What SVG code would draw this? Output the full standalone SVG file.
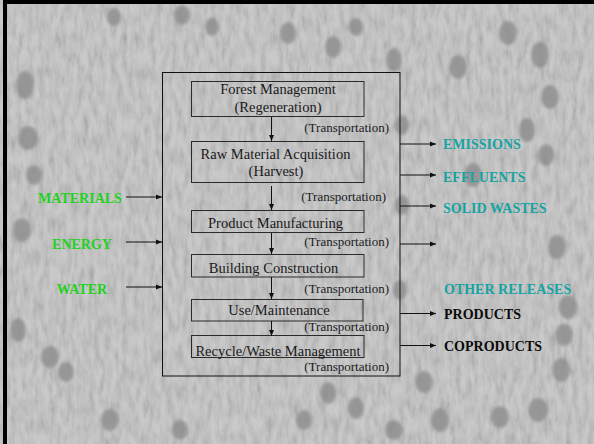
<svg xmlns="http://www.w3.org/2000/svg" width="594" height="444" viewBox="0 0 594 444">
<style>
.box{fill:none;stroke:#2a2a2a;stroke-width:1}
text{font-family:'Liberation Serif','Times New Roman',Tinos,'DejaVu Serif',serif}
.t{font-size:14.5px;fill:#1a1a1a;text-anchor:middle}
.tr{font-size:13px;fill:#1a1a1a;text-anchor:end}
.lbl{font-size:14px;font-weight:bold}
.in{fill:#1fd21f;text-anchor:middle}
.out{fill:#17a3a3}
.prod{fill:#0a0a0a}
.ln{stroke:#111;stroke-width:1;fill:none}
.blob{fill:#8c8c8c}
</style>
<defs>
<marker id="ah" viewBox="0 0 6 6" refX="6" refY="3" markerWidth="6" markerHeight="6" markerUnits="userSpaceOnUse" orient="auto">
<path d="M0,0.5 L6,3 L0,5.5 Z" fill="#111"/>
</marker>
<filter id="grain" x="0" y="0" width="100%" height="100%">
<feTurbulence type="fractalNoise" baseFrequency="0.18 0.06" numOctaves="3" seed="3"/>
<feColorMatrix type="matrix" values="1.4 0 0 0 0  1.4 0 0 0 0  1.4 0 0 0 0  0 0 0 0 1"/>
</filter>
<filter id="soft"><feGaussianBlur stdDeviation="1.6"/></filter>
</defs>
<g id="background">
<rect x="0" y="0" width="594" height="444" fill="#bababa"/>
<rect x="0" y="0" width="594" height="444" filter="url(#grain)" opacity="0.22"/>
<g filter="url(#soft)" opacity="0.8">
<ellipse class="blob" cx="25" cy="85" rx="9" ry="14"/>
<ellipse class="blob" cx="28" cy="138" rx="10" ry="12"/>
<ellipse class="blob" cx="34" cy="175" rx="8" ry="10"/>
<ellipse class="blob" cx="22" cy="230" rx="9" ry="12"/>
<ellipse class="blob" cx="18" cy="330" rx="8" ry="12"/>
<ellipse class="blob" cx="50" cy="357" rx="9" ry="11"/>
<ellipse class="blob" cx="66" cy="372" rx="8" ry="10"/>
<ellipse class="blob" cx="114" cy="17" rx="7" ry="9"/>
<ellipse class="blob" cx="182" cy="15" rx="8" ry="10"/>
<ellipse class="blob" cx="212" cy="27" rx="7" ry="9"/>
<ellipse class="blob" cx="288" cy="33" rx="8" ry="11"/>
<ellipse class="blob" cx="333" cy="47" rx="8" ry="11"/>
<ellipse class="blob" cx="356" cy="27" rx="7" ry="9"/>
<ellipse class="blob" cx="394" cy="60" rx="8" ry="12"/>
<ellipse class="blob" cx="402" cy="125" rx="7" ry="10"/>
<ellipse class="blob" cx="458" cy="67" rx="9" ry="12"/>
<ellipse class="blob" cx="508" cy="33" rx="9" ry="12"/>
<ellipse class="blob" cx="540" cy="55" rx="9" ry="13"/>
<ellipse class="blob" cx="550" cy="97" rx="9" ry="12"/>
<ellipse class="blob" cx="527" cy="130" rx="8" ry="12"/>
<ellipse class="blob" cx="546" cy="155" rx="8" ry="11"/>
<ellipse class="blob" cx="557" cy="247" rx="9" ry="12"/>
<ellipse class="blob" cx="568" cy="307" rx="9" ry="12"/>
<ellipse class="blob" cx="564" cy="335" rx="9" ry="11"/>
<ellipse class="blob" cx="561" cy="370" rx="9" ry="12"/>
<ellipse class="blob" cx="538" cy="410" rx="10" ry="12"/>
<ellipse class="blob" cx="500" cy="417" rx="9" ry="11"/>
<ellipse class="blob" cx="440" cy="420" rx="9" ry="12"/>
<ellipse class="blob" cx="394" cy="430" rx="9" ry="10"/>
<ellipse class="blob" cx="356" cy="408" rx="8" ry="11"/>
<ellipse class="blob" cx="328" cy="393" rx="8" ry="11"/>
<ellipse class="blob" cx="304" cy="420" rx="8" ry="10"/>
<ellipse class="blob" cx="424" cy="382" rx="9" ry="11"/>
<ellipse class="blob" cx="180" cy="430" rx="8" ry="10"/>
<ellipse class="blob" cx="110" cy="420" rx="9" ry="11"/>
<ellipse class="blob" cx="473" cy="175" rx="9" ry="12"/>
<ellipse class="blob" cx="402" cy="205" rx="7" ry="10"/>
<ellipse class="blob" cx="400" cy="290" rx="7" ry="10"/>
</g>
<path d="M5,444 V2 H594" fill="none" stroke="#000" stroke-width="4"/>
</g>
<g id="system-boundary">
<rect x="162.5" y="72.5" width="237.5" height="303.5" fill="none" stroke="#111" stroke-width="1"/>
</g>
<g id="forest-management">
<rect class="box" x="191.5" y="81.5" width="172.5" height="35"/>
<text class="t" x="278" y="93.5">Forest Management</text>
<text class="t" x="278" y="111.5">(Regeneration)</text>
</g>
<g id="raw-material">
<rect class="box" x="191.5" y="141.5" width="172.5" height="41"/>
<text class="t" x="275.5" y="158.5">Raw Material Acquisition</text>
<text class="t" x="276" y="176">(Harvest)</text>
</g>
<g id="product-manufacturing">
<rect class="box" x="191.5" y="210.5" width="172.5" height="22"/>
<text class="t" x="275.5" y="227.5">Product Manufacturing</text>
</g>
<g id="building-construction">
<rect class="box" x="191.5" y="254.5" width="172.5" height="22.5"/>
<text class="t" x="273.5" y="272.5">Building Construction</text>
</g>
<g id="use-maintenance">
<rect class="box" x="191.5" y="299.5" width="171.5" height="21.5"/>
<text class="t" x="279" y="315">Use/Maintenance</text>
</g>
<g id="recycle-waste">
<rect class="box" x="191.5" y="335.5" width="172.5" height="22"/>
<text class="t" x="278" y="356">Recycle/Waste Management</text>
</g>
<g id="transport-labels">
<text class="tr" x="389" y="131.5">(Transportation)</text>
<text class="tr" x="386" y="201">(Transportation)</text>
<text class="tr" x="389" y="245.5">(Transportation)</text>
<text class="tr" x="389" y="293">(Transportation)</text>
<text class="tr" x="389" y="330.5">(Transportation)</text>
<text class="tr" x="389" y="370.5">(Transportation)</text>
</g>
<g id="inputs">
<text class="lbl in" x="80" y="202.5">MATERIALS</text>
<text class="lbl in" x="82" y="249">ENERGY</text>
<text class="lbl in" x="82" y="294">WATER</text>
</g>
<g id="outputs">
<text class="lbl out" x="443" y="149">EMISSIONS</text>
<text class="lbl out" x="443" y="181.5">EFFLUENTS</text>
<text class="lbl out" x="443" y="212.5">SOLID WASTES</text>
<text class="lbl out" x="444" y="294">OTHER RELEASES</text>
<text class="lbl prod" x="444" y="319">PRODUCTS</text>
<text class="lbl prod" x="444" y="351">COPRODUCTS</text>
</g>
<g id="connectors">
<line class="ln" x1="271.5" y1="117" x2="271.5" y2="141" marker-end="url(#ah)"/>
<line class="ln" x1="271.5" y1="186" x2="271.5" y2="210" marker-end="url(#ah)"/>
<line class="ln" x1="271.5" y1="233" x2="271.5" y2="254" marker-end="url(#ah)"/>
<line class="ln" x1="271.5" y1="277" x2="271.5" y2="299" marker-end="url(#ah)"/>
<line class="ln" x1="271.5" y1="321" x2="271.5" y2="336" marker-end="url(#ah)"/>
<line class="ln" x1="126" y1="197" x2="162" y2="197" marker-end="url(#ah)"/>
<line class="ln" x1="126" y1="242" x2="162" y2="242" marker-end="url(#ah)"/>
<line class="ln" x1="126" y1="287" x2="162" y2="287" marker-end="url(#ah)"/>
<line class="ln" x1="400" y1="144" x2="436" y2="144" marker-end="url(#ah)"/>
<line class="ln" x1="400" y1="175" x2="436" y2="175" marker-end="url(#ah)"/>
<line class="ln" x1="400" y1="206" x2="436" y2="206" marker-end="url(#ah)"/>
<line class="ln" x1="400" y1="244" x2="436" y2="244" marker-end="url(#ah)"/>
<line class="ln" x1="400" y1="313.5" x2="436" y2="313.5" marker-end="url(#ah)"/>
<line class="ln" x1="400" y1="345.5" x2="436" y2="345.5" marker-end="url(#ah)"/>
</g>
</svg>
